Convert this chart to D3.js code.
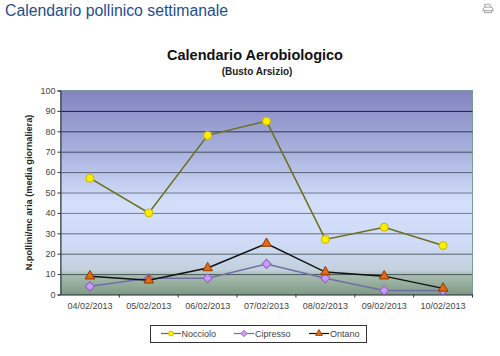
<!DOCTYPE html>
<html>
<head>
<meta charset="utf-8">
<script src="https://cdn.jsdelivr.net/npm/d3@7"></script>
<style>
  body { margin: 0; background: #fff; }
  svg { display: block; font-family: "Liberation Sans", Arial, sans-serif; }
</style>
</head>
<body>
<div id="chart"></div>
<script>
// data
var dates = ["04/02/2013", "05/02/2013", "06/02/2013", "07/02/2013", "08/02/2013", "09/02/2013", "10/02/2013"];
var nocciolo = [57, 40, 78, 85, 27, 33, 24];
var cipresso = [4, 8, 8, 15, 8, 2, 2];
var ontano = [9, 7, 13, 25, 11, 9, 3];
var yTicks = [0, 10, 20, 30, 40, 50, 60, 70, 80, 90, 100];

var W = 500, H = 356;
var margin = {top: 90.5, right: 27.5, bottom: 61.5, left: 60.5},
    width = W - margin.left - margin.right,
    height = H - margin.top - margin.bottom;

var root = d3.select("#chart").append("svg")
    .attr("width", W)
    .attr("height", H);

// page heading
root.append("text")
    .attr("x", 5)
    .attr("y", 16)
    .style("font-size", "15.8px")
    .style("fill", "#1f4e8c")
    .text("Calendario pollinico settimanale");

// print icon, top right
var icon = root.append("g")
    .attr("transform", "translate(482,3.5) scale(0.8)")
    .style("fill", "none")
    .style("stroke", "#8a8a8a")
    .style("stroke-width", 1);
icon.append("path").attr("d", "M3.5 4.5V1H9.5L11 3V4.5");
icon.append("path").attr("d", "M3.5 4.5H11Q14 5 14 9H1Q1 5 3.5 4.5Z");
icon.append("path").attr("d", "M3 9V11.5H12V9");

// chart titles
root.append("text")
    .attr("x", 255)
    .attr("y", 60)
    .attr("text-anchor", "middle")
    .style("font-size", "14.5px")
    .style("font-weight", "bold")
    .style("fill", "#111")
    .text("Calendario Aerobiologico");
root.append("text")
    .attr("x", 257)
    .attr("y", 75)
    .attr("text-anchor", "middle")
    .style("font-size", "10px")
    .style("font-weight", "bold")
    .style("fill", "#222")
    .text("(Busto Arsizio)");

// plot background gradient
var grad = root.append("defs").append("linearGradient")
    .attr("id", "plotbg")
    .attr("x1", 0).attr("y1", 0).attr("x2", 0).attr("y2", 1);
grad.append("stop").attr("offset", "0%").attr("stop-color", "#8484c0");
grad.append("stop").attr("offset", "30%").attr("stop-color", "#a9b2de");
grad.append("stop").attr("offset", "55%").attr("stop-color", "#d4dffb");
grad.append("stop").attr("offset", "76%").attr("stop-color", "#cfdaf6");
grad.append("stop").attr("offset", "88%").attr("stop-color", "#c3d0dc");
grad.append("stop").attr("offset", "90.5%").attr("stop-color", "#a9bdb0");
grad.append("stop").attr("offset", "100%").attr("stop-color", "#7f9a85");

var svg = root.append("g")
    .attr("transform", "translate(" + margin.left + "," + margin.top + ")");

svg.append("rect")
    .attr("width", width)
    .attr("height", height)
    .style("fill", "url(#plotbg)")
    .style("stroke", "#7d9aa0")
    .style("stroke-width", 1);

var x = d3.scaleBand()
    .domain(dates)
    .range([0, width]);

var y = d3.scaleLinear()
    .domain([0, 100])
    .range([height, 0]);

// grid lines get lighter towards the middle of the plot
var gridColor = d3.scaleLinear()
    .domain([10, 45, 90])
    .range(["#46565c", "#75858f", "#20203c"]);

svg.append("g")
    .call(d3.axisLeft(y).tickValues(yTicks.slice(1, -1)).tickSize(-width).tickFormat(""))
    .call(function(g) { g.select(".domain").remove(); })
    .selectAll("line")
      .style("stroke", function(d) { return gridColor(d); })
      .style("stroke-width", 1);

// y axis
var yAxis = svg.append("g")
    .call(d3.axisLeft(y).tickValues(yTicks).tickSize(3).tickPadding(2));
yAxis.selectAll("text").style("font-size", "9px").style("fill", "#444").style("font-family", "inherit");
yAxis.selectAll("line,path").style("stroke", "#333");

// x axis: labels in the band centre, tick marks on the band edges
var xAxis = svg.append("g")
    .attr("transform", "translate(0," + height + ")")
    .call(d3.axisBottom(x).tickSize(0).tickPadding(8));
xAxis.selectAll("text").style("font-size", "9px").style("fill", "#444").style("font-family", "inherit");
xAxis.select(".domain").style("stroke", "#222");
xAxis.selectAll("line.edge")
    .data(dates)
    .enter().append("line")
    .attr("class", "edge")
    .attr("x1", function(d) { return x(d) + x.bandwidth(); })
    .attr("x2", function(d) { return x(d) + x.bandwidth(); })
    .attr("y1", 0)
    .attr("y2", 3)
    .style("stroke", "#333");

// y axis label
root.append("text")
    .attr("transform", "translate(32,192.5) rotate(-90)")
    .attr("text-anchor", "middle")
    .style("font-size", "9.2px")
    .style("font-weight", "bold")
    .style("fill", "#222")
    .text("N.pollini/mc aria (media giornaliera)");

var series = [
  {name: "Nocciolo", values: nocciolo, line: "#6b6f1c", width: 1.5, symbol: d3.symbolCircle, size: 50, rotate: 0, fill: "#ffee00", stroke: "#c8b400", legendX: 161, textX: 181.5},
  {name: "Cipresso", values: cipresso, line: "#6f6fa8", width: 1.5, symbol: d3.symbolSquare, size: 42, rotate: 45, fill: "#cc99ff", stroke: "#8a66b8", legendX: 234, textX: 255},
  {name: "Ontano", values: ontano, line: "#111", width: 1.5, symbol: d3.symbolTriangle, size: 40, rotate: 0, fill: "#e86a10", stroke: "#8a3a00", legendX: 309, textX: 330}
];

var line = d3.line()
    .x(function(d, i) { return x(dates[i]) + x.bandwidth() / 2; })
    .y(function(d) { return y(d); });

series.forEach(function(s) {
  svg.append("path")
      .datum(s.values)
      .attr("d", line)
      .style("fill", "none")
      .style("stroke", s.line)
      .style("stroke-width", s.width);
  svg.selectAll("mark")
      .data(s.values)
      .enter()
      .append("path")
      .attr("d", d3.symbol().type(s.symbol).size(s.size))
      .attr("transform", function(d, i) {
        return "translate(" + (x(dates[i]) + x.bandwidth() / 2) + "," + y(d) + ") rotate(" + s.rotate + ")";
      })
      .style("fill", s.fill)
      .style("stroke", s.stroke)
      .style("stroke-width", 1);
});

// legend
var legend = root.append("g");
legend.append("rect")
    .attr("x", 150.5)
    .attr("y", 325.5)
    .attr("width", 216)
    .attr("height", 17)
    .style("fill", "#fff")
    .style("stroke", "#333")
    .style("stroke-width", 1);

series.forEach(function(s) {
  var g = legend.append("g").attr("transform", "translate(" + s.legendX + ",333.5)");
  g.append("line")
      .attr("x1", 0)
      .attr("x2", 20)
      .style("stroke", s.line)
      .style("stroke-width", 1.2);
  g.append("path")
      .attr("transform", "translate(10,0) rotate(" + s.rotate + ")")
      .attr("d", d3.symbol().type(s.symbol).size(20))
      .style("fill", s.fill)
      .style("stroke", s.stroke)
      .style("stroke-width", 0.8);
  legend.append("text")
      .attr("x", s.textX)
      .attr("y", 336.5)
      .style("font-size", "9px")
      .style("fill", "#444")
      .text(s.name);
});
</script>
</body>
</html>
